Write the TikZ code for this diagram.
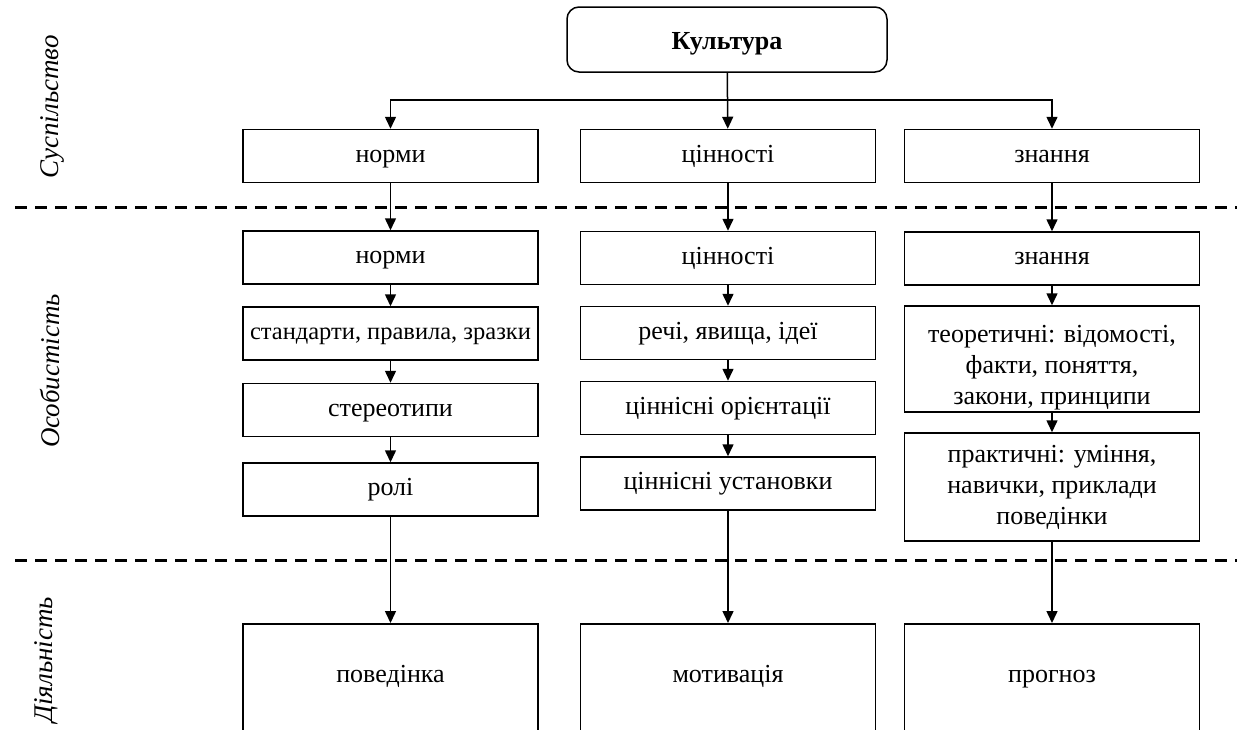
\documentclass[tikz,border=0pt]{standalone}
\usepackage{fontspec}
\setmainfont{Liberation Serif}
\usetikzlibrary{arrows.meta,positioning}

\tikzset{
  box/.style={draw, line width=1.5pt, minimum width=295pt, minimum height=53pt, inner sep=2pt, align=center, font=\fontsize{26}{31}\selectfont},
  onebox/.style={box, text height=18pt, text depth=6pt},
  endbox/.style={box, anchor=north, text height=57pt, text depth=60pt},
  arr/.style={line width=1.5pt, -{Triangle[length=12pt,width=11pt]}},
  sepline/.style={line width=3pt, dash pattern=on 12pt off 8pt},
  level/.style={rotate=90, font=\fontsize{27}{31}\selectfont\itshape}
}

\begin{document}
\begin{tikzpicture}[x=1pt,y=-1pt]
        \useasboundingbox (0,0) rectangle (1237,729);
        \draw[sepline] (15,207) -- (1237,207);
        \draw[sepline] (15,560) -- (1237,560);
        \node[level] (soc) at (52,107) {Суспільство};
        \node[level] (pers) at (50,371) {Особистість};
        \node[level] (act) at (46,660) {Діяльність};
        % top
        \node[box, rounded corners=12pt, minimum width=320pt, minimum height=65pt, text height=22pt, text depth=2pt, font=\fontsize{26}{31}\selectfont\bfseries] (cult) at (727,39.5) {Культура};
        \node[onebox] (norm1) at (390.5,156) {норми};
        \node[onebox] (val1) at (728,156) {цінності};
        \node[onebox] (know1) at (1052,156) {знання};
        \coordinate (fork) at (728,100);
        \draw[arr] (cult) -- (val1);
        \draw[arr] (fork) -| (norm1);
        \draw[arr] (fork) -| (know1);
        % personality
        \node[onebox] (norm2) at (390.5,257.5) {норми};
        \node[onebox, font=\fontsize{24.5}{31}\selectfont] (std) at (390.5,333.5) {стандарти, правила, зразки};
        \node[onebox] (ster) at (390.5,410) {стереотипи};
        \node[onebox] (role) at (390.5,489.5) {ролі};
        \node[onebox] (val2) at (728,258) {цінності};
        \node[onebox] (thing) at (728,333) {речі, явища, ідеї};
        \node[onebox] (orient) at (728,408) {ціннісні орієнтації};
        \node[onebox] (attit) at (728,483.5) {ціннісні установки};
        \node[onebox] (know2) at (1052,258.5) {знання};
        \node[box, minimum height=106pt] (theor) at (1052,359) {\rule{0pt}{34pt}теоретичні: відомості,\\факти, поняття,\\закони, принципи};
        \node[box, minimum height=108pt] (pract) at (1052,487) {практичні: уміння,\\навички, приклади\\поведінки};
        % activity
        \node[endbox] (beh) at (390.5,623) {поведінка};
        \node[endbox] (mot) at (728,623) {мотивація};
        \node[endbox] (prog) at (1052,623) {прогноз};
        \draw[arr] (norm1) -- (norm2);
        \draw[arr] (norm2) -- (std);
        \draw[arr] (std) -- (ster);
        \draw[arr] (ster) -- (role);
        \draw[arr] (role) -- (beh);
        \draw[arr] (val1) -- (val2);
        \draw[arr] (val2) -- (thing);
        \draw[arr] (thing) -- (orient);
        \draw[arr] (orient) -- (attit);
        \draw[arr] (attit) -- (mot);
        \draw[arr] (know1) -- (know2);
        \draw[arr] (know2) -- (theor);
        \draw[arr] (theor) -- (pract);
        \draw[arr] (pract) -- (prog);
\end{tikzpicture}
\end{document}
